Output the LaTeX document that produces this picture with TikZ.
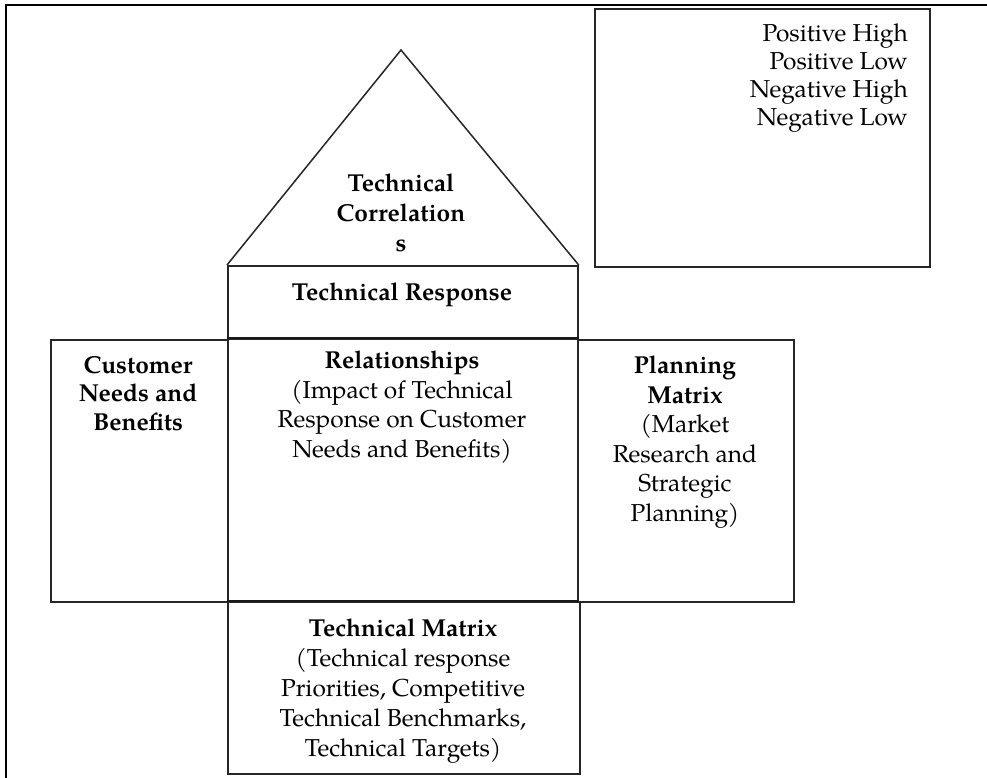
\documentclass[tikz,border=0pt]{standalone}
\usepackage{fontspec}
\setmainfont{TeX Gyre Pagella}
\begin{document}
\begin{tikzpicture}[x=1pt,y=-1pt,
  box/.style={draw=black!85, line width=1.7pt, anchor=north west, inner sep=0pt},
  txt/.style={font=\fontsize{24.5}{29.5}\selectfont, align=center, anchor=north, inner sep=0pt},
  frameline/.style={line width=2.8pt, line cap=rect},
  divider/.style={line width=2.6pt, draw=black!90}]
\useasboundingbox (0,0) rectangle (987,777);
% frame
\coordinate (ftl) at (6,5);
\coordinate (ftr) at (987,5);
\coordinate (fbl) at (6,777);
\draw[frameline] (ftr) -- (ftl) -- (fbl);
% boxes
\node[box, minimum width=335pt, minimum height=258pt] (legend) at (594,8) {};
\node[box, minimum width=350pt, minimum height=73pt] (resp) at (227,265) {};
\node[box, minimum width=350pt, minimum height=263pt] (rel) at (227,338) {};
\node[box, minimum width=177pt, minimum height=262pt] (cust) at (50,339) {};
\node[box, minimum width=216pt, minimum height=262pt] (plan) at (577,339) {};
\node[box, minimum width=352pt, minimum height=172pt] (tmat) at (227,601) {};
% thicker inner dividers
\draw[divider] (rel.north west) -- (rel.north east);
\draw[divider] (tmat.north west) -- (tmat.north -| rel.east);
% roof
\coordinate (apex) at (401,50);
\draw[draw=black!85, line width=1.5pt, line join=miter] (resp.north west) -- (apex) -- (resp.north east);
% texts
\node[txt, anchor=north east, align=right, font=\fontsize{24.5}{28}\selectfont] (legendtxt) at (908,24)
  {Positive High\\Positive Low\\Negative High\\Negative Low};
\node[txt, font=\fontsize{24.5}{30}\selectfont\bfseries] (roottxt) at (401,174)
  {Technical\\Correlation\\s};
\node[txt, font=\fontsize{24.5}{29.5}\selectfont\bfseries] (resptxt) at (402,283) {Technical Response};
\node[txt] (reltxt) at (402,351)
  {\textbf{Relationships}\\(Impact of Technical\\Response on Customer\\Needs and Benefits)};
\node[txt, font=\fontsize{24.5}{28.5}\selectfont\bfseries] (custtxt) at (138,356)
  {Customer\\Needs and\\Benefits};
\node[txt] (plantxt) at (685,356)
  {\textbf{Planning}\\\textbf{Matrix}\\(Market\\Research and\\Strategic\\Planning)};
\node[txt, font=\fontsize{24.5}{30}\selectfont] (tmattxt) at (403,619)
  {\textbf{Technical Matrix}\\(Technical response\\Priorities, Competitive\\Technical Benchmarks,\\Technical Targets)};
\end{tikzpicture}
\end{document}
